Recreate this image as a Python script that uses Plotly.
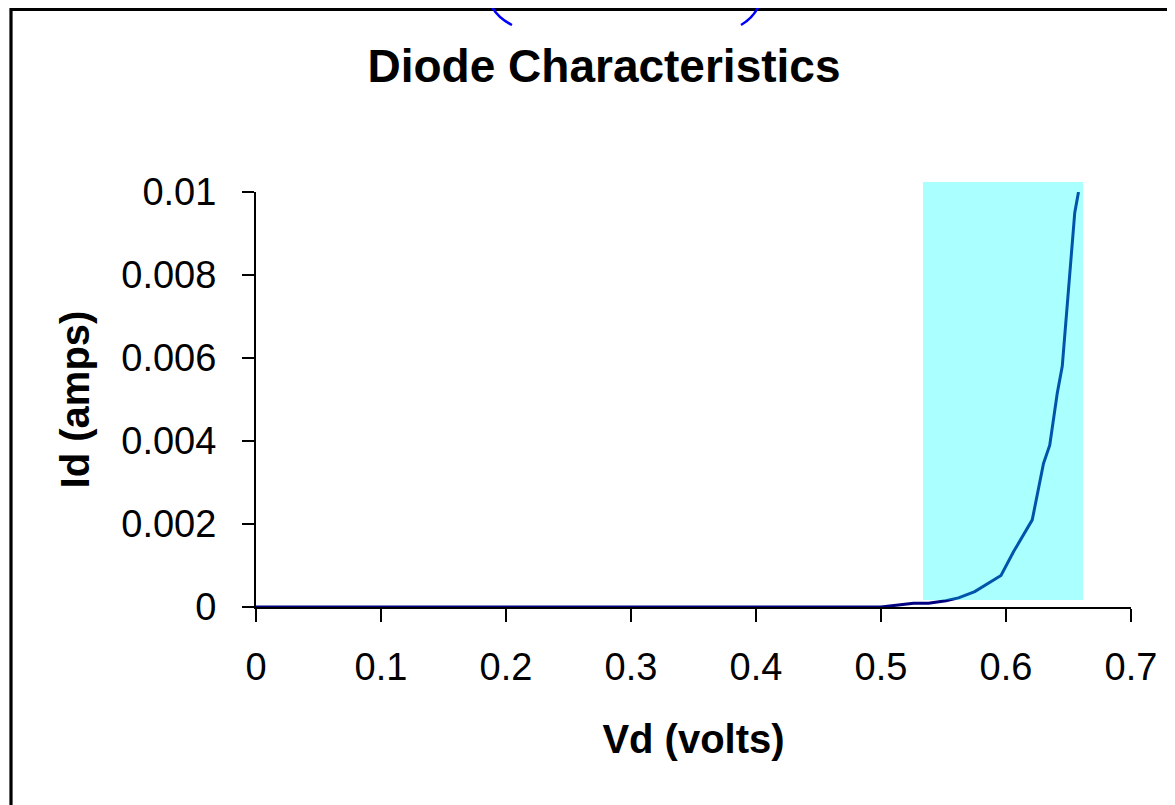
import plotly.graph_objects as go

# ---- data ----
vd_volts = [0.0, 0.1, 0.2, 0.3, 0.4, 0.5, 0.526, 0.538, 0.552, 0.562, 0.575,
            0.596, 0.606, 0.621, 0.630, 0.635, 0.641, 0.645, 0.655, 0.658]
id_amps = [0.0, 0.0, 0.0, 0.0, 0.0, 0.0, 0.00009, 0.00009, 0.00015, 0.00022, 0.00037,
           0.00076, 0.00133, 0.0021, 0.00346, 0.0039, 0.00515, 0.0058, 0.0095, 0.0100]

x_tickvals = [0, 0.1, 0.2, 0.3, 0.4, 0.5, 0.6, 0.7]
x_ticktext = ["0", "0.1", "0.2", "0.3", "0.4", "0.5", "0.6", "0.7"]
y_tickvals = [0, 0.002, 0.004, 0.006, 0.008, 0.01]
y_ticktext = ["0", "0.002", "0.004", "0.006", "0.008", "0.01"]

highlight_x = [0.5336, 0.6616]      # shaded region in volts
highlight_y = [0.00017, 0.01024]    # shaded region in amps

OFF = 8  # page body margin
W, H = 1175 - OFF, 805 - OFF
L, T = 256 - OFF, 192 - OFF
R, B = W - (1131 - OFF), H - (607 - OFF)
PW, PH = W - L - R, H - T - B
Y_MAX = 0.01


def px_x(p):
    """page pixel x -> paper fraction"""
    return (p - OFF - L) / PW


def px_y(p):
    """page pixel y -> paper fraction"""
    return (H - B - (p - OFF)) / PH


FONT = "Arial, Liberation Sans, sans-serif"

fig = go.Figure()
fig.add_trace(go.Scatter(
    x=vd_volts, y=id_amps, mode="lines",
    line=dict(color="#000080", width=3),
    showlegend=False, hoverinfo="skip",
))

shapes = []
# shaded translucent highlight (drawn above the curve)
shapes.append(dict(
    type="rect", layer="above", xref="x", yref="paper",
    x0=highlight_x[0], x1=highlight_x[1],
    y0=highlight_y[0] / Y_MAX, y1=highlight_y[1] / Y_MAX,
    fillcolor="rgba(0,255,255,0.333)", line=dict(width=0),
))
# outer frame (cut off on right/bottom)
shapes.append(dict(
    type="rect", layer="above", xref="paper", yref="paper",
    x0=px_x(11), x1=px_x(1200), y0=px_y(840), y1=px_y(OFF + 1.5),
    line=dict(color="black", width=3.2), fillcolor="rgba(0,0,0,0)",
))


def arc(p0, c, p1):
    return "M {:.5f},{:.5f} Q {:.5f},{:.5f} {:.5f},{:.5f}".format(
        px_x(p0[0]), px_y(p0[1]), px_x(c[0]), px_y(c[1]), px_x(p1[0]), px_y(p1[1]))


for pts in [((488, -4), (492, 15), (512, 25)), ((762, -4), (758, 15), (741, 25))]:
    shapes.append(dict(
        type="path", layer="above", xref="paper", yref="paper",
        path=arc(*pts), line=dict(color="#0000FF", width=2.5),
    ))

fig.update_layout(
    width=W, height=H, autosize=False,
    margin=dict(l=L, r=R, t=T, b=B, pad=0),
    paper_bgcolor="white", plot_bgcolor="white",
    font=dict(family=FONT, color="black"),
    title=dict(
        text="Diode Characteristics", x=(604 - OFF) / W, xanchor="center",
        y=1 - (66 - OFF) / H, yanchor="middle", yref="container",
        font=dict(size=46, family=FONT, weight="bold", color="black"),
    ),
    shapes=shapes,
    xaxis=dict(
        range=[0, 0.7], tickvals=x_tickvals, ticktext=x_ticktext,
        showgrid=False, zeroline=False, showline=True, linecolor="black", linewidth=2,
        ticks="outside", ticklen=13, tickwidth=2, tickcolor="black",
        ticklabelstandoff=12,
        tickfont=dict(size=38, family=FONT, color="black"),
        title=dict(text="Vd (volts)", standoff=38,
                   font=dict(size=40, family=FONT, weight="bold", color="black")),
        fixedrange=True,
    ),
    yaxis=dict(
        range=[0, Y_MAX], tickvals=y_tickvals, ticktext=y_ticktext,
        showgrid=False, zeroline=False, showline=True, linecolor="black", linewidth=2,
        ticks="outside", ticklen=12, tickwidth=2, tickcolor="black",
        ticklabelstandoff=18,
        tickfont=dict(size=38, family=FONT, color="black"),
        title=dict(text="Id (amps)", standoff=19,
                   font=dict(size=40, family=FONT, weight="bold", color="black")),
        fixedrange=True,
    ),
)

fig.write_html("out.html")
